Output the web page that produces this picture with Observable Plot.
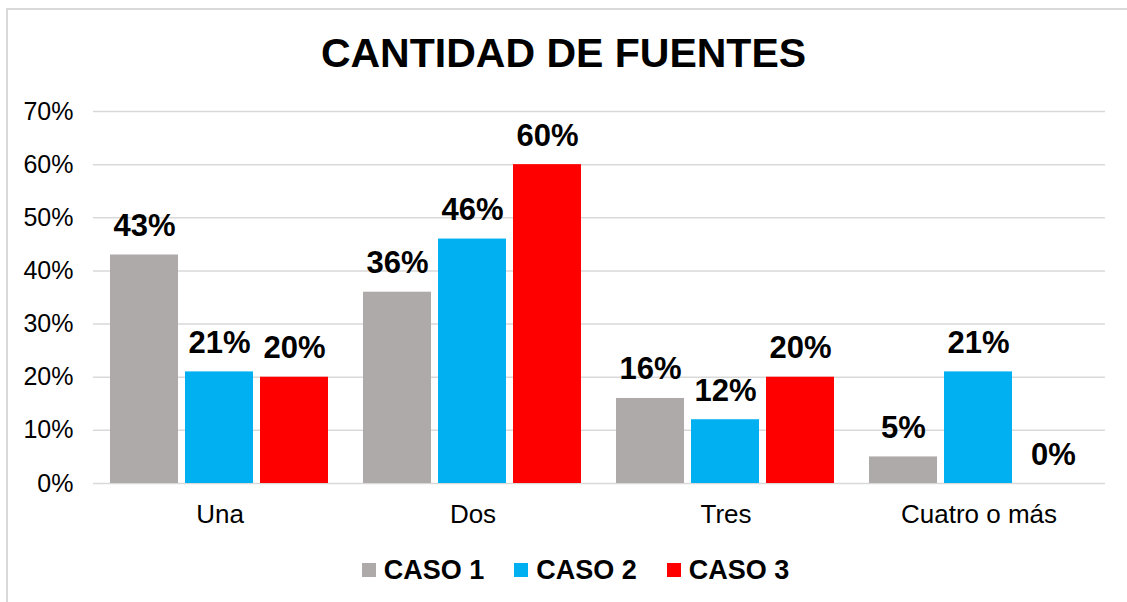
<!DOCTYPE html>
<html>
<head>
<meta charset="utf-8">
<script src="https://cdn.jsdelivr.net/npm/d3@7"></script>
<script src="https://cdn.jsdelivr.net/npm/@observablehq/plot@0.6"></script>
<style>
  html, body { margin: 0; padding: 0; background: #fff; }
  body { width: 1127px; height: 602px; position: relative; overflow: hidden; font-family: "Liberation Sans", Arial, sans-serif; }
  #frame { position: absolute; left: 6px; top: 8px; width: 1140px; height: 620px; border-left: 2px solid #d9d9d9; border-top: 2px solid #d9d9d9; box-sizing: border-box; }
  #title { position: absolute; left: 0; top: 26px; width: 1127px; text-align: center; font-weight: bold; font-size: 41px; line-height: 54px; color: #000; }
  #chart { position: absolute; left: 0; top: 90px; }
  #legend { position: absolute; left: 0; top: 554px; width: 1127px; box-sizing: border-box; padding-left: 24px; display: flex; justify-content: center; gap: 30px; font-weight: bold; font-size: 27px; line-height: 32px; color: #000; }
  #legend .item { display: flex; align-items: center; gap: 8px; }
  #legend .sw { width: 14px; height: 14px; display: inline-block; }
</style>
</head>
<body>
<div id="frame"></div>
<div id="title">CANTIDAD DE FUENTES</div>
<div id="chart"></div>
<div id="legend"></div>
<script>
const categories = ["Una", "Dos", "Tres", "Cuatro o más"];
const series = ["CASO 1", "CASO 2", "CASO 3"];
const caso1 = [0.43, 0.36, 0.16, 0.05];
const caso2 = [0.21, 0.46, 0.12, 0.21];
const caso3 = [0.20, 0.60, 0.20, 0.00];
const colors = ["#AEAAAA", "#00B0F0", "#FF0000"];
const yTicks = [0, 0.1, 0.2, 0.3, 0.4, 0.5, 0.6, 0.7];

const seriesValues = [caso1, caso2, caso3];
const data = [];
categories.forEach((c, i) => {
  series.forEach((s, j) => {
    data.push({categoria: c, caso: s, valor: seriesValues[j][i]});
  });
});

const fmt = d3.format(".0%");

const chart = Plot.plot({
  width: 1127,
  height: 445,
  marginLeft: 92,
  marginRight: 22,
  marginTop: 21,
  marginBottom: 52,
  style: {fontFamily: "'Liberation Sans', Arial, sans-serif", color: "#000", background: "transparent"},
  fx: {domain: categories, padding: 0, label: null, axis: null},
  x: {domain: series, paddingInner: 0.0933, paddingOuter: 0.2333, axis: null},
  y: {domain: [0, 0.7], label: null, axis: null},
  color: {domain: series, range: colors},
  marks: [
    Plot.gridY(yTicks, {stroke: "#d9d9d9", strokeOpacity: 1, strokeWidth: 1.5}),
    Plot.axisY(yTicks, {tickSize: 0, tickPadding: 20, fontSize: 25, tickFormat: fmt, label: null, fill: "#000"}),
    Plot.axisFx({anchor: "bottom", tickSize: 0, tickPadding: 21, fontSize: 26, label: null, fill: "#000"}),
    Plot.barY(data, {fx: "categoria", x: "caso", y: "valor", fill: "caso"}),
    Plot.text(data, {fx: "categoria", x: "caso", y: "valor", text: d => fmt(d.valor), fontSize: 31, fontWeight: "bold", lineAnchor: "bottom", dy: -19, fill: "#000"})
  ]
});
document.getElementById("chart").appendChild(chart);

const legend = document.getElementById("legend");
series.forEach((s, j) => {
  const item = document.createElement("div");
  item.className = "item";
  const sw = document.createElement("span");
  sw.className = "sw";
  sw.style.background = colors[j];
  const label = document.createElement("span");
  label.textContent = s;
  item.appendChild(sw);
  item.appendChild(label);
  legend.appendChild(item);
});
</script>
</body>
</html>
